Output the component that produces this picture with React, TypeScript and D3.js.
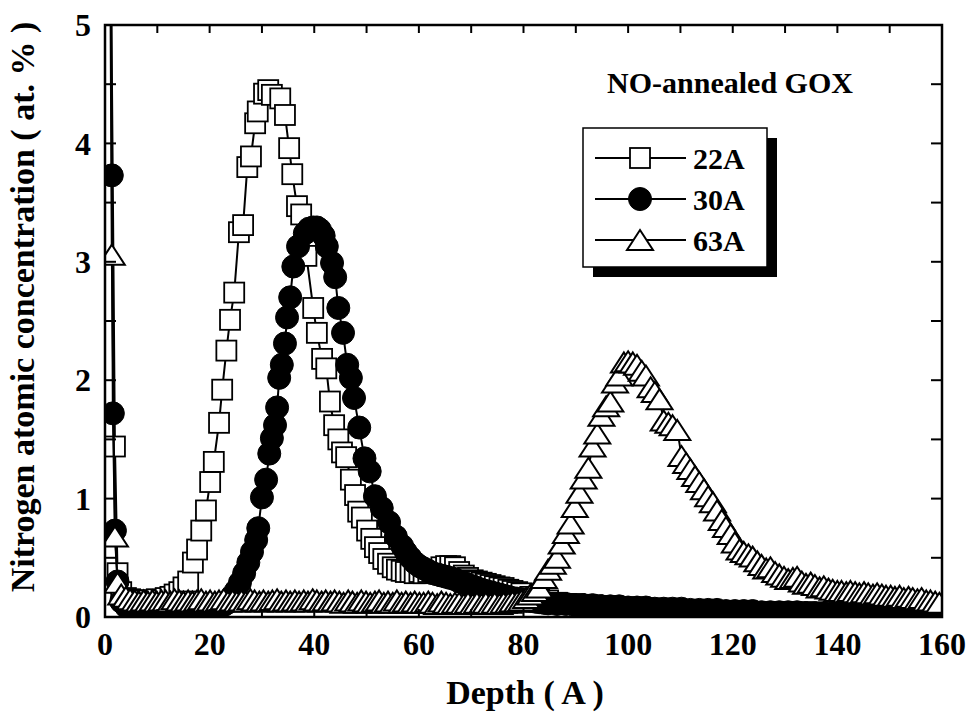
import React from "react";
import * as d3 from "d3";

// ---- data (depth in Å, N concentration in at.%) ----
const series22A: [number, number][] = [
  [0.5, 9.0], [1.9, 1.44], [2.4, 0.37], [3.1, 0.21], [4.0, 0.16], [4.8, 0.15], [5.7, 0.14], [6.5, 0.13],
  [7.4, 0.14], [8.2, 0.14], [9.1, 0.13], [9.9, 0.15], [10.8, 0.14], [11.6, 0.16], [12.5, 0.17], [13.3, 0.19],
  [14.2, 0.21], [15.0, 0.25], [15.9, 0.30], [16.8, 0.46], [17.6, 0.57], [18.4, 0.73], [19.3, 0.90], [20.1, 1.14],
  [20.8, 1.31], [21.8, 1.64], [22.4, 1.92], [23.2, 2.25], [23.9, 2.51], [24.7, 2.74], [25.6, 3.25], [26.4, 3.31],
  [27.2, 3.80], [27.9, 3.89], [28.7, 4.17], [29.2, 4.27], [30.4, 4.42], [31.2, 4.45], [31.9, 4.41], [33.5, 4.38],
  [34.4, 4.24], [35.2, 3.96], [35.8, 3.74], [36.7, 3.47], [37.5, 3.40], [38.5, 3.05], [39.8, 2.61], [40.5, 2.40],
  [41.5, 2.18], [42.3, 2.10], [43.0, 1.82], [43.8, 1.62], [44.6, 1.50], [45.3, 1.39], [46.1, 1.35], [47.0, 1.16],
  [47.8, 1.03], [48.4, 0.89], [49.1, 0.84], [50.1, 0.73], [50.9, 0.66], [51.6, 0.59], [52.4, 0.54], [53.2, 0.49],
  [54.1, 0.45], [55.0, 0.42], [55.8, 0.40], [56.7, 0.39], [57.5, 0.38], [58.4, 0.38], [59.2, 0.37], [60.1, 0.38],
  [60.9, 0.37], [61.8, 0.38], [62.6, 0.39], [63.5, 0.40], [64.3, 0.42], [65.2, 0.43], [66.0, 0.43], [66.9, 0.42],
  [67.7, 0.38], [68.6, 0.35], [69.4, 0.33], [70.3, 0.31], [71.1, 0.30], [72.0, 0.29], [72.8, 0.28], [73.7, 0.27],
  [74.5, 0.26], [75.4, 0.25], [76.2, 0.245], [77.1, 0.23], [77.9, 0.22], [78.8, 0.21], [79.6, 0.20], [81.3, 0.17],
  [83.0, 0.15], [84.7, 0.14], [86.4, 0.12], [88.1, 0.11], [89.8, 0.11], [91.5, 0.10], [93.2, 0.10], [94.9, 0.09],
  [96.6, 0.09], [98.3, 0.08], [100.0, 0.08], [101.7, 0.08], [103.4, 0.07], [105.1, 0.07], [106.8, 0.07], [108.5, 0.06],
  [110.2, 0.06], [111.9, 0.06], [113.6, 0.06], [115.3, 0.05], [117.0, 0.05], [118.7, 0.05], [120.4, 0.05], [122.1, 0.05],
  [123.8, 0.04], [125.5, 0.04], [127.2, 0.04], [128.9, 0.04], [130.6, 0.04], [132.3, 0.04], [134.0, 0.04], [135.7, 0.04],
  [137.4, 0.03], [139.1, 0.03], [140.8, 0.03], [142.5, 0.03], [144.2, 0.03], [145.9, 0.03], [147.6, 0.03], [149.3, 0.03],
  [151.0, 0.03], [152.7, 0.03], [154.4, 0.03], [156.1, 0.03], [157.8, 0.03], [159.5, 0.03],
];

const series30A: [number, number][] = [
  [0.6, 12.0], [1.3, 3.73], [1.5, 1.72], [1.9, 0.73], [2.4, 0.30], [3.1, 0.13], [4.0, 0.09], [4.8, 0.08],
  [5.7, 0.07], [6.5, 0.07], [7.4, 0.06], [8.2, 0.06], [9.1, 0.06], [9.9, 0.06], [10.8, 0.05], [11.6, 0.05],
  [12.5, 0.05], [13.3, 0.05], [14.2, 0.05], [15.0, 0.05], [15.9, 0.05], [16.7, 0.06], [17.6, 0.05], [18.4, 0.05],
  [19.3, 0.06], [20.1, 0.06], [21.0, 0.07], [21.8, 0.08], [22.7, 0.10], [23.4, 0.12], [24.2, 0.17], [25.0, 0.22],
  [25.8, 0.29], [26.6, 0.37], [27.4, 0.46], [28.1, 0.55], [28.9, 0.65], [29.3, 0.75], [30.0, 1.01], [30.8, 1.16],
  [31.4, 1.38], [31.9, 1.51], [32.5, 1.62], [32.9, 1.77], [33.3, 2.02], [33.8, 2.13], [34.4, 2.31], [34.8, 2.53],
  [35.4, 2.70], [36.0, 2.96], [36.9, 3.13], [38.2, 3.24], [39.0, 3.28], [39.8, 3.29], [40.5, 3.29], [41.1, 3.27],
  [41.8, 3.22], [42.4, 3.13], [43.4, 2.99], [44.0, 2.87], [44.6, 2.61], [45.5, 2.40], [46.3, 2.13], [47.0, 2.02],
  [47.6, 1.85], [48.6, 1.60], [49.6, 1.34], [50.6, 1.23], [51.6, 1.02], [52.9, 0.92], [54.3, 0.80], [55.6, 0.68],
  [56.8, 0.60], [57.5, 0.55], [58.4, 0.50], [59.2, 0.46], [60.1, 0.43], [60.9, 0.41], [61.8, 0.39], [62.6, 0.37],
  [63.5, 0.36], [64.3, 0.35], [65.2, 0.34], [66.0, 0.33], [66.9, 0.32], [67.7, 0.30], [68.6, 0.29], [69.4, 0.27],
  [70.3, 0.26], [71.1, 0.245], [72.0, 0.23], [72.8, 0.22], [73.7, 0.21], [74.5, 0.20], [75.4, 0.19], [76.2, 0.18],
  [77.1, 0.17], [77.9, 0.16], [78.8, 0.155], [79.6, 0.15], [80.5, 0.14], [81.3, 0.135], [82.2, 0.13], [83.0, 0.125],
  [83.9, 0.12], [84.7, 0.115], [86.4, 0.11], [88.1, 0.11], [89.8, 0.10], [91.5, 0.10], [93.2, 0.10], [94.9, 0.09],
  [96.6, 0.09], [98.3, 0.09], [100.0, 0.08], [101.7, 0.08], [103.4, 0.08], [105.1, 0.07], [106.8, 0.07], [108.5, 0.07],
  [110.2, 0.07], [111.9, 0.06], [113.6, 0.06], [115.3, 0.06], [117.0, 0.06], [118.7, 0.05], [120.4, 0.05], [122.1, 0.05],
  [123.8, 0.05], [125.5, 0.04], [127.2, 0.04], [128.9, 0.04], [130.6, 0.04], [132.3, 0.04], [134.0, 0.03], [135.7, 0.03],
  [137.4, 0.03], [139.1, 0.03], [140.8, 0.03], [142.5, 0.02], [144.2, 0.02], [145.9, 0.02], [147.6, 0.02], [149.3, 0.02],
  [151.0, 0.02], [152.7, 0.02], [154.4, 0.02], [156.1, 0.02], [157.8, 0.02], [159.5, 0.02],
];

const series63A: [number, number][] = [
  [0.5, 10.0], [1.3, 3.06], [1.9, 0.68], [2.4, 0.29], [3.1, 0.19], [4.0, 0.17], [4.8, 0.15], [5.7, 0.14],
  [6.5, 0.13], [7.4, 0.14], [8.2, 0.13], [9.1, 0.14], [9.9, 0.13], [10.8, 0.14], [11.6, 0.14], [12.5, 0.13],
  [13.3, 0.15], [14.2, 0.14], [15.0, 0.13], [15.9, 0.14], [16.7, 0.13], [17.6, 0.14], [18.4, 0.15], [19.3, 0.13],
  [20.1, 0.14], [21.0, 0.13], [21.8, 0.14], [22.7, 0.15], [23.5, 0.13], [24.4, 0.14], [25.2, 0.13], [26.1, 0.14],
  [26.9, 0.13], [27.8, 0.15], [28.6, 0.14], [29.5, 0.13], [30.3, 0.14], [31.2, 0.13], [32.0, 0.14], [32.9, 0.15],
  [33.7, 0.13], [34.6, 0.14], [35.4, 0.13], [36.3, 0.14], [37.1, 0.13], [38.0, 0.14], [38.8, 0.13], [39.7, 0.15],
  [40.5, 0.14], [41.4, 0.13], [42.2, 0.14], [43.1, 0.13], [43.9, 0.14], [44.8, 0.13], [45.6, 0.12], [46.5, 0.14],
  [47.3, 0.13], [48.2, 0.12], [49.0, 0.14], [49.9, 0.13], [50.7, 0.12], [51.6, 0.13], [52.4, 0.14], [53.3, 0.12],
  [54.1, 0.13], [55.0, 0.12], [55.8, 0.14], [56.7, 0.12], [57.5, 0.13], [58.4, 0.12], [59.2, 0.13], [60.1, 0.12],
  [60.9, 0.12], [61.8, 0.13], [62.6, 0.12], [63.5, 0.11], [64.3, 0.13], [65.2, 0.12], [66.0, 0.11], [66.9, 0.12],
  [67.7, 0.12], [68.6, 0.11], [69.4, 0.12], [70.3, 0.11], [71.1, 0.12], [72.0, 0.11], [72.8, 0.12], [73.7, 0.11],
  [74.5, 0.12], [75.4, 0.11], [76.2, 0.12], [77.1, 0.12], [77.9, 0.13], [78.8, 0.13], [79.6, 0.14], [80.5, 0.16],
  [81.3, 0.19], [82.2, 0.22], [83.0, 0.25], [83.9, 0.33], [84.7, 0.40], [85.6, 0.45], [86.4, 0.50], [87.3, 0.62],
  [88.1, 0.71], [89.0, 0.79], [89.8, 0.93], [90.7, 1.05], [91.5, 1.17], [92.4, 1.26], [93.2, 1.44], [94.1, 1.55],
  [94.9, 1.70], [95.8, 1.78], [96.6, 1.82], [97.5, 1.98], [98.3, 2.04], [99.2, 2.15], [100.0, 2.16], [100.9, 2.15],
  [101.7, 2.13], [102.6, 2.08], [103.4, 2.04], [104.3, 1.94], [105.1, 1.90], [106.0, 1.84], [106.8, 1.66], [107.7, 1.64],
  [108.5, 1.62], [109.4, 1.58], [110.2, 1.36], [111.1, 1.30], [111.9, 1.25], [112.8, 1.19], [113.6, 1.14], [114.5, 1.08],
  [115.3, 1.02], [116.2, 0.97], [117.0, 0.90], [117.9, 0.82], [118.7, 0.76], [119.6, 0.70], [120.4, 0.63], [121.3, 0.57],
  [122.1, 0.55], [123.0, 0.53], [123.8, 0.51], [124.7, 0.47], [125.5, 0.44], [126.4, 0.41], [127.2, 0.42], [128.1, 0.38],
  [128.9, 0.36], [129.8, 0.34], [130.6, 0.32], [131.5, 0.33], [132.3, 0.34], [133.2, 0.30], [134.0, 0.28], [134.9, 0.29],
  [135.7, 0.27], [136.6, 0.25], [137.4, 0.26], [138.3, 0.24], [139.1, 0.23], [140.0, 0.22], [140.8, 0.22], [141.7, 0.21],
  [142.5, 0.22], [143.4, 0.21], [144.2, 0.20], [145.1, 0.21], [145.9, 0.20], [146.8, 0.19], [147.6, 0.20], [148.5, 0.19],
  [149.3, 0.18], [150.2, 0.18], [151.0, 0.17], [151.9, 0.18], [152.7, 0.16], [153.6, 0.17], [154.4, 0.16], [155.3, 0.15],
  [156.1, 0.16], [157.0, 0.14], [157.8, 0.14], [158.7, 0.13], [159.5, 0.12],
];

const seriesNames = ["22A", "30A", "63A"];
const xTickLabels = [0, 20, 40, 60, 80, 100, 120, 140, 160];
const yTickLabels = [0, 1, 2, 3, 4, 5];
const xTitle = "Depth ( A )";
const yTitle = "Nitrogen atomic concentration ( at. % )";
const chartNote = "NO-annealed GOX";

// ---- layout ----
const W = 970, H = 718;
const L = 105, R = 942, T = 25, B = 617;
const FONT = '"Liberation Serif", "Times New Roman", Times, "DejaVu Serif", serif';
const textStyle: React.CSSProperties = { fontFamily: FONT, fontWeight: 700 };

const x = d3.scaleLinear().domain([0, 160]).range([L, R]);
const y = d3.scaleLinear().domain([0, 5]).range([B, T]);
const line = d3.line<[number, number]>().x((d) => x(d[0])).y((d) => y(d[1]));

type Kind = "square" | "circle" | "triangle";

function Marker({ kind, cx, cy }: { kind: Kind; cx: number; cy: number }) {
  if (kind === "square")
    return <rect x={cx - 10} y={cy - 10} width={20} height={20} fill="#fff" stroke="#000" strokeWidth={1.8} />;
  if (kind === "circle") return <circle cx={cx} cy={cy} r={11.5} fill="#000" stroke="#000" strokeWidth={1} />;
  return (
    <path
      d={`M${cx},${cy - 10} L${cx + 13},${cy + 10} L${cx - 13},${cy + 10} Z`}
      fill="#fff"
      stroke="#000"
      strokeWidth={2}
      strokeLinejoin="miter"
    />
  );
}

const seriesList: { data: [number, number][]; kind: Kind }[] = [
  { data: series22A, kind: "square" },
  { data: series30A, kind: "circle" },
  { data: series63A, kind: "triangle" },
];

export default function App() {
  const xMinor = x.ticks(16);
  const yMinor = y.ticks(10);
  const legX0 = 583, legY0 = 128, legW = 184, legH = 139;
  return (
    <svg
      width={W}
      height={H}
      viewBox={`0 0 ${W} ${H}`}
      style={{ position: "absolute", left: 0, top: 0, background: "#fff" }}
    >
      <defs>
        <clipPath id="plotClip">
          <rect x={L} y={T} width={R - L} height={B - T} />
        </clipPath>
      </defs>
      <rect x={0} y={0} width={W} height={H} fill="#fff" />

      <g clipPath="url(#plotClip)">
        {seriesList.map((s, si) => (
          <g key={si}>
            <path d={line(s.data) || ""} fill="none" stroke="#000" strokeWidth={2} />
            {s.data.map((d, i) => (
              <Marker key={i} kind={s.kind} cx={x(d[0])} cy={y(d[1])} />
            ))}
          </g>
        ))}
      </g>

      {/* ticks */}
      <g stroke="#000" strokeWidth={2}>
        {xMinor.map((t) => (
          <g key={"xt" + t}>
            <line x1={x(t)} x2={x(t)} y1={B} y2={B - 8} />
            <line x1={x(t)} x2={x(t)} y1={T} y2={T + 8} />
          </g>
        ))}
        {yMinor.map((t) => (
          <g key={"yt" + t}>
            <line x1={L} x2={L + 11} y1={y(t)} y2={y(t)} />
            <line x1={R} x2={R - 11} y1={y(t)} y2={y(t)} />
          </g>
        ))}
      </g>
      <rect x={L} y={T} width={R - L} height={B - T} fill="none" stroke="#000" strokeWidth={2.5} />

      {/* tick labels */}
      {xTickLabels.map((t) => (
        <text key={"xl" + t} x={x(t)} y={655} textAnchor="middle" fontSize={32} style={textStyle}>
          {t}
        </text>
      ))}
      {yTickLabels.map((t) => (
        <text key={"yl" + t} x={91} y={y(t)} dy="0.35em" textAnchor="end" fontSize={32} style={textStyle}>
          {t}
        </text>
      ))}

      {/* axis titles */}
      <text x={525} y={704} textAnchor="middle" fontSize={34} style={textStyle}>
        {xTitle}
      </text>
      <text transform={`translate(34,307) rotate(-90)`} textAnchor="middle" fontSize={34} style={textStyle}>
        {yTitle}
      </text>

      {/* note */}
      <text x={730} y={93} textAnchor="middle" fontSize={30} style={textStyle}>
        {chartNote}
      </text>

      {/* legend */}
      <rect x={legX0 + 10} y={legY0 + 10} width={legW} height={legH} fill="#000" />
      <rect x={legX0} y={legY0} width={legW} height={legH} fill="#fff" stroke="#000" strokeWidth={1.5} />
      {seriesNames.map((name, i) => {
        const ry = 158 + i * 41;
        return (
          <g key={name}>
            <line x1={595} x2={686} y1={ry} y2={ry} stroke="#000" strokeWidth={2} />
            <Marker kind={seriesList[i].kind} cx={640} cy={ry} />
            <text x={693} y={ry} dy="0.35em" fontSize={30} style={textStyle}>
              {name}
            </text>
          </g>
        );
      })}
    </svg>
  );
}
